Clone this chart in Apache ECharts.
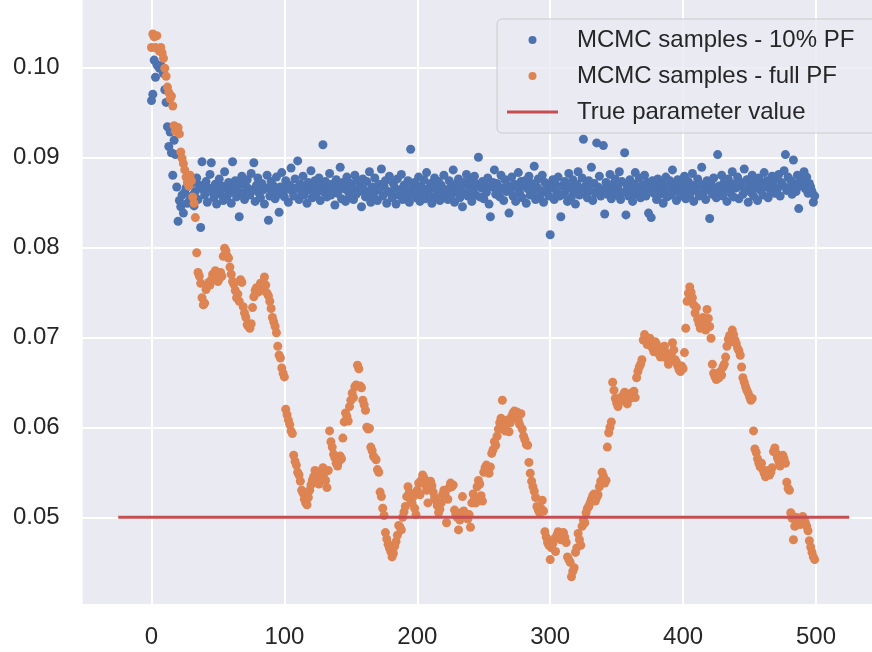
<!DOCTYPE html>
<html>
<head>
<meta charset="utf-8">
<script src="https://cdn.jsdelivr.net/npm/echarts@6/dist/echarts.min.js"></script>
<style>
html,body{margin:0;padding:0;background:#ffffff;}
#chart{width:872px;height:652px;}
</style>
</head>
<body>
<div id="chart"></div>
<script>
// ---- data ----
const seriesNames = ['MCMC samples - 10% PF', 'MCMC samples - full PF', 'True parameter value'];

// MCMC chain with 10% particle filter, iterations 0..499
const tenPctPF = [
  0.0963, 0.0970, 0.1008, 0.0989, 0.1003, 0.1001, 0.0999, 0.1002, 0.0998, 0.0993,
  0.0975, 0.0961, 0.0934, 0.0912, 0.0928, 0.0905, 0.0880, 0.0919, 0.0903, 0.0867,
  0.0829, 0.0852, 0.0845, 0.0858, 0.0838, 0.0861, 0.0866, 0.0849, 0.0872, 0.0854,
  0.0871, 0.0858, 0.0846, 0.0862, 0.0877, 0.0853, 0.0869, 0.0822, 0.0895, 0.0864,
  0.0858, 0.0873, 0.0850, 0.0866, 0.0881, 0.0894, 0.0861, 0.0855, 0.0870, 0.0848,
  0.0863, 0.0876, 0.0859, 0.0868, 0.0852, 0.0884, 0.0866, 0.0857, 0.0872, 0.0861,
  0.0849, 0.0895, 0.0867, 0.0874, 0.0856, 0.0862, 0.0834, 0.0870, 0.0879, 0.0860,
  0.0853, 0.0868, 0.0875, 0.0865, 0.0858, 0.0882, 0.0863, 0.0894, 0.0851, 0.0869,
  0.0877, 0.0860, 0.0855, 0.0871, 0.0864, 0.0848, 0.0866, 0.0880, 0.0830, 0.0857,
  0.0873, 0.0862, 0.0868, 0.0854, 0.0878, 0.0859, 0.0839, 0.0867, 0.0883, 0.0861,
  0.0856, 0.0874, 0.0865, 0.0850, 0.0869, 0.0888, 0.0862, 0.0857, 0.0876, 0.0866,
  0.0896, 0.0853, 0.0870, 0.0861, 0.0879, 0.0858, 0.0867, 0.0849, 0.0872, 0.0864,
  0.0885, 0.0855, 0.0868, 0.0874, 0.0859, 0.0863, 0.0877, 0.0852, 0.0869, 0.0914,
  0.0861, 0.0873, 0.0856, 0.0866, 0.0882, 0.0858, 0.0870, 0.0863, 0.0847, 0.0875,
  0.0860, 0.0868, 0.0889, 0.0854, 0.0872, 0.0865, 0.0851, 0.0878, 0.0862, 0.0857,
  0.0871, 0.0866, 0.0853, 0.0880, 0.0859, 0.0874, 0.0862, 0.0869, 0.0845, 0.0876,
  0.0864, 0.0856, 0.0873, 0.0861, 0.0884, 0.0850, 0.0867, 0.0858, 0.0877, 0.0863,
  0.0852, 0.0870, 0.0865, 0.0887, 0.0857, 0.0868, 0.0874, 0.0849, 0.0862, 0.0879,
  0.0860, 0.0855, 0.0871, 0.0866, 0.0848, 0.0876, 0.0858, 0.0864, 0.0881, 0.0853,
  0.0869, 0.0862, 0.0857, 0.0874, 0.0850, 0.0909, 0.0866, 0.0859, 0.0872, 0.0855,
  0.0863, 0.0878, 0.0851, 0.0868, 0.0860, 0.0875, 0.0854, 0.0883, 0.0865, 0.0858,
  0.0871, 0.0849, 0.0866, 0.0877, 0.0856, 0.0862, 0.0873, 0.0852, 0.0869, 0.0861,
  0.0880, 0.0857, 0.0864, 0.0853, 0.0874, 0.0866, 0.0859, 0.0886, 0.0850, 0.0870,
  0.0862, 0.0876, 0.0855, 0.0867, 0.0845, 0.0872, 0.0860, 0.0881, 0.0857, 0.0868,
  0.0874, 0.0851, 0.0863, 0.0879, 0.0858, 0.0870, 0.0900, 0.0856, 0.0866, 0.0873,
  0.0854, 0.0869, 0.0861, 0.0877, 0.0848, 0.0834, 0.0867, 0.0872, 0.0886, 0.0859,
  0.0871, 0.0863, 0.0856, 0.0880, 0.0866, 0.0852, 0.0875, 0.0862, 0.0869, 0.0838,
  0.0864, 0.0878, 0.0857, 0.0870, 0.0851, 0.0866, 0.0883, 0.0860, 0.0873, 0.0855,
  0.0868, 0.0874, 0.0849, 0.0865, 0.0879, 0.0858, 0.0871, 0.0862, 0.0890, 0.0853,
  0.0867, 0.0876, 0.0856, 0.0863, 0.0880, 0.0850, 0.0872, 0.0861, 0.0869, 0.0857,
  0.0814, 0.0866, 0.0875, 0.0853, 0.0870, 0.0861, 0.0878, 0.0857, 0.0834, 0.0868,
  0.0859, 0.0873, 0.0864, 0.0851, 0.0882, 0.0867, 0.0856, 0.0875, 0.0862, 0.0848,
  0.0870, 0.0884, 0.0858, 0.0866, 0.0877, 0.0920, 0.0861, 0.0869, 0.0855, 0.0874,
  0.0863, 0.0889, 0.0852, 0.0871, 0.0860, 0.0916, 0.0867, 0.0879, 0.0857, 0.0864,
  0.0913, 0.0837, 0.0872, 0.0859, 0.0866, 0.0881, 0.0854, 0.0870, 0.0862, 0.0876,
  0.0858, 0.0867, 0.0884, 0.0853, 0.0873, 0.0861, 0.0905, 0.0836, 0.0868, 0.0857,
  0.0875, 0.0864, 0.0851, 0.0870, 0.0883, 0.0859, 0.0866, 0.0877, 0.0855, 0.0869,
  0.0862, 0.0880, 0.0857, 0.0872, 0.0838, 0.0865, 0.0833, 0.0874, 0.0860, 0.0868,
  0.0853, 0.0876, 0.0866, 0.0859, 0.0871, 0.0849, 0.0863, 0.0878, 0.0856, 0.0867,
  0.0874, 0.0858, 0.0886, 0.0862, 0.0869, 0.0852, 0.0875, 0.0864, 0.0857, 0.0870,
  0.0861, 0.0879, 0.0854, 0.0867, 0.0873, 0.0858, 0.0866, 0.0882, 0.0851, 0.0869,
  0.0863, 0.0876, 0.0857, 0.0870, 0.0889, 0.0860, 0.0867, 0.0853, 0.0874, 0.0864,
  0.0832, 0.0871, 0.0859, 0.0877, 0.0866, 0.0855, 0.0903, 0.0868, 0.0862, 0.0880,
  0.0857, 0.0873, 0.0865, 0.0851, 0.0876, 0.0869, 0.0860, 0.0884, 0.0856, 0.0871,
  0.0866, 0.0878, 0.0854, 0.0868, 0.0872, 0.0859, 0.0887, 0.0863, 0.0875, 0.0850,
  0.0869, 0.0861, 0.0880, 0.0857, 0.0873, 0.0866, 0.0852, 0.0877, 0.0864, 0.0870,
  0.0858, 0.0883, 0.0867, 0.0874, 0.0855, 0.0871, 0.0862, 0.0879, 0.0868, 0.0860,
  0.0876, 0.0865, 0.0881, 0.0857, 0.0872, 0.0869, 0.0885, 0.0903, 0.0863, 0.0878,
  0.0866, 0.0874, 0.0859, 0.0897, 0.0870, 0.0862, 0.0880, 0.0843, 0.0876, 0.0868,
  0.0873, 0.0884, 0.0865, 0.0878, 0.0860, 0.0871, 0.0867, 0.0862, 0.0850, 0.0857
];

// MCMC chain with full particle filter, iterations 0..499
const fullPF = [
  0.1022, 0.1037, 0.1034, 0.1022, 0.1035, 0.1020, 0.1018, 0.1022, 0.1016, 0.1010,
  0.0999, 0.0990, 0.0978, 0.0972, 0.0965, 0.0968, 0.0957, 0.0935, 0.0929, 0.0932,
  0.0933, 0.0926, 0.0906, 0.0899, 0.0893, 0.0886, 0.0878, 0.0872, 0.0868, 0.0880,
  0.0874, 0.0856, 0.0849, 0.0833, 0.0794, 0.0772, 0.0768, 0.0760, 0.0744, 0.0736,
  0.0738, 0.0753, 0.0757, 0.0761, 0.0758, 0.0764, 0.0770, 0.0768, 0.0774, 0.0766,
  0.0762, 0.0765, 0.0772, 0.0768, 0.0790, 0.0799, 0.0796, 0.0790, 0.0788, 0.0778,
  0.0770, 0.0762, 0.0759, 0.0752, 0.0744, 0.0748, 0.0740, 0.0764, 0.0761, 0.0734,
  0.0727, 0.0722, 0.0714, 0.0712, 0.0710, 0.0715, 0.0733, 0.0745, 0.0752, 0.0755,
  0.0750, 0.0754, 0.0760, 0.0757, 0.0752, 0.0767, 0.0758, 0.0749, 0.0746, 0.0740,
  0.0732, 0.0722, 0.0717, 0.0712, 0.0705, 0.0690, 0.0680, 0.0677, 0.0666, 0.0660,
  0.0656, 0.0620, 0.0614, 0.0608, 0.0603, 0.0596, 0.0593, 0.0569, 0.0562, 0.0558,
  0.0550, 0.0547, 0.0540, 0.0530, 0.0527, 0.0520, 0.0516, 0.0514, 0.0522, 0.0530,
  0.0536, 0.0541, 0.0545, 0.0552, 0.0548, 0.0540, 0.0537, 0.0543, 0.0550, 0.0555,
  0.0549, 0.0541, 0.0533, 0.0552, 0.0596, 0.0584, 0.0578, 0.0570, 0.0566, 0.0560,
  0.0557, 0.0562, 0.0568, 0.0565, 0.0588, 0.0606, 0.0616, 0.0612, 0.0607, 0.0623,
  0.0630, 0.0638, 0.0633, 0.0645, 0.0647, 0.0669, 0.0665, 0.0646, 0.0644, 0.0630,
  0.0625, 0.0619, 0.0600, 0.0598, 0.0599, 0.0578, 0.0574, 0.0568, 0.0566, 0.0564,
  0.0553, 0.0550, 0.0528, 0.0523, 0.0510, 0.0502, 0.0483, 0.0476, 0.0470, 0.0466,
  0.0462, 0.0456, 0.0460, 0.0468, 0.0473, 0.0480, 0.0491, 0.0489, 0.0486, 0.0500,
  0.0506, 0.0512, 0.0523, 0.0534, 0.0528, 0.0519, 0.0516, 0.0523, 0.0510, 0.0503,
  0.0530, 0.0538, 0.0525, 0.0541, 0.0547, 0.0544, 0.0536, 0.0530, 0.0516, 0.0533,
  0.0540, 0.0535, 0.0528, 0.0522, 0.0519, 0.0513, 0.0505, 0.0509, 0.0516, 0.0525,
  0.0530, 0.0527, 0.0494, 0.0520, 0.0533, 0.0538, 0.0534, 0.0536, 0.0508, 0.0503,
  0.0500, 0.0486, 0.0497, 0.0505, 0.0523, 0.0507, 0.0504, 0.0500, 0.0498, 0.0503,
  0.0489, 0.0516, 0.0526, 0.0520, 0.0516, 0.0534, 0.0541, 0.0537, 0.0524, 0.0518,
  0.0550, 0.0555, 0.0558, 0.0552, 0.0549, 0.0556, 0.0571, 0.0575, 0.0584, 0.0580,
  0.0590, 0.0598, 0.0605, 0.0610, 0.0630, 0.0602, 0.0596, 0.0603, 0.0608, 0.0595,
  0.0605, 0.0612, 0.0616, 0.0618, 0.0613, 0.0617, 0.0608, 0.0603, 0.0615, 0.0598,
  0.0590, 0.0586, 0.0581, 0.0580, 0.0561, 0.0549, 0.0540, 0.0534, 0.0529, 0.0522,
  0.0512, 0.0508, 0.0505, 0.0510, 0.0519, 0.0507, 0.0484, 0.0478, 0.0472, 0.0469,
  0.0453, 0.0466, 0.0471, 0.0476, 0.0462, 0.0480, 0.0484, 0.0478, 0.0475, 0.0480,
  0.0483, 0.0478, 0.0472, 0.0456, 0.0453, 0.0450, 0.0434, 0.0440, 0.0444, 0.0461,
  0.0466, 0.0482, 0.0475, 0.0469, 0.0490, 0.0497, 0.0494, 0.0505, 0.0510, 0.0512,
  0.0516, 0.0520, 0.0524, 0.0526, 0.0518, 0.0522, 0.0525, 0.0534, 0.0540, 0.0550,
  0.0546, 0.0538, 0.0541, 0.0578, 0.0594, 0.0600, 0.0606, 0.0650, 0.0641, 0.0632,
  0.0627, 0.0623, 0.0628, 0.0633, 0.0630, 0.0636, 0.0639, 0.0630, 0.0626, 0.0634,
  0.0632, 0.0638, 0.0637, 0.0640, 0.0633, 0.0655, 0.0662, 0.0667, 0.0670, 0.0675,
  0.0697, 0.0703, 0.0700, 0.0692, 0.0696, 0.0699, 0.0690, 0.0688, 0.0684, 0.0695,
  0.0692, 0.0685, 0.0681, 0.0678, 0.0684, 0.0689, 0.0690, 0.0683, 0.0676, 0.0670,
  0.0675, 0.0681, 0.0694, 0.0686, 0.0675, 0.0672, 0.0668, 0.0664, 0.0662, 0.0668,
  0.0665, 0.0683, 0.0710, 0.0740, 0.0749, 0.0756, 0.0750, 0.0744, 0.0736, 0.0727,
  0.0733, 0.0720, 0.0715, 0.0710, 0.0717, 0.0722, 0.0716, 0.0708, 0.0731, 0.0721,
  0.0712, 0.0699, 0.0670, 0.0660, 0.0656, 0.0653, 0.0658, 0.0655, 0.0662, 0.0658,
  0.0667, 0.0670, 0.0678, 0.0690, 0.0698, 0.0702, 0.0695, 0.0708, 0.0703, 0.0697,
  0.0693, 0.0688, 0.0685, 0.0680, 0.0667, 0.0655, 0.0650, 0.0645, 0.0641, 0.0638,
  0.0634, 0.0630, 0.0632, 0.0596, 0.0576, 0.0572, 0.0565, 0.0560, 0.0556, 0.0560,
  0.0553, 0.0549, 0.0545, 0.0548, 0.0552, 0.0547, 0.0550, 0.0555, 0.0573, 0.0577,
  0.0571, 0.0566, 0.0562, 0.0557, 0.0567, 0.0569, 0.0565, 0.0560, 0.0539, 0.0532,
  0.0530, 0.0505, 0.0499, 0.0475, 0.0490, 0.0500, 0.0495, 0.0497, 0.0492, 0.0496,
  0.0501, 0.0498, 0.0494, 0.0490, 0.0485, 0.0474, 0.0467, 0.0461, 0.0456, 0.0453
];

// horizontal reference line
const trueValue = 0.05;
const trueLineX = [-25, 525];

// axis ticks
const xTicks = [0, 100, 200, 300, 400, 500];
const yTicks = [0.05, 0.06, 0.07, 0.08, 0.09, 0.10];

// ---- chart ----
const FONT = '"Liberation Sans", Arial, sans-serif';
const TXT = '#262626';
const chart = echarts.init(document.getElementById('chart'), null, {renderer: 'canvas'});

const pairs = arr => arr.map((v, i) => [i, v]);

const option = {
  animation: false,
  backgroundColor: '#ffffff',
  textStyle: {fontFamily: FONT},
  graphic: [{
    type: 'rect', silent: true, z: -100,
    shape: {x: 82.7, y: 0, width: 800, height: 604},
    style: {fill: '#EAEAF2'}
  }],
  grid: {
    left: 18.6, top: -22.7, width: 930.3, height: 630,
    show: false, containLabel: false, outerBoundsMode: 'none'
  },
  xAxis: {
    type: 'value', min: -100, max: 600, interval: 100,
    axisLine: {show: false}, axisTick: {show: false},
    splitLine: {show: true, lineStyle: {color: '#ffffff', width: 2}},
    axisLabel: {
      margin: 18, fontSize: 24, color: TXT, fontFamily: FONT,
      formatter: v => xTicks.indexOf(Math.round(v)) >= 0 ? String(Math.round(v)) : ''
    }
  },
  yAxis: {
    type: 'value', min: 0.04, max: 0.11, interval: 0.01, offset: -64.1,
    axisLine: {show: false}, axisTick: {show: false},
    splitLine: {show: true, lineStyle: {color: '#ffffff', width: 2}},
    axisLabel: {
      margin: 23, fontSize: 24, color: TXT, fontFamily: FONT,
      formatter: v => {
        const r = Math.round(v * 100) / 100;
        return yTicks.some(t => Math.abs(t - r) < 1e-9) && Math.abs(v - r) < 1e-9 ? r.toFixed(2) : '';
      }
    }
  },
  legend: {
    orient: 'vertical', left: 497, top: 19,
    padding: [7, 30, 7, 10],
    itemWidth: 51, itemHeight: 8, itemGap: 8,
    backgroundColor: 'rgba(234,234,242,0.8)',
    borderColor: '#cccccc', borderWidth: 1, borderRadius: 5,
    textStyle: {fontSize: 24, color: TXT, fontFamily: FONT, lineHeight: 28, padding: [0, 0, 0, 14]},
    data: [
      {name: seriesNames[0], icon: 'circle'},
      {name: seriesNames[1], icon: 'circle'},
      {name: seriesNames[2], icon: 'path://M0,0 L51,0 L51,3 L0,3 Z', itemStyle: {color: '#C44E52', borderWidth: 0}}
    ]
  },
  series: [
    {
      name: seriesNames[0], type: 'scatter', symbol: 'circle', symbolSize: 9,
      itemStyle: {color: '#4C72B0', opacity: 1},
      data: pairs(tenPctPF), z: 2
    },
    {
      name: seriesNames[1], type: 'scatter', symbol: 'circle', symbolSize: 9,
      itemStyle: {color: '#DD8452', opacity: 1},
      data: pairs(fullPF), z: 3
    },
    {
      name: seriesNames[2], type: 'line', symbol: 'none', silent: true,
      lineStyle: {color: '#C44E52', width: 3},
      itemStyle: {color: '#C44E52'},
      data: trueLineX.map(x => [x, trueValue]), z: 4
    }
  ]
};
chart.setOption(option);
</script>
</body>
</html>
